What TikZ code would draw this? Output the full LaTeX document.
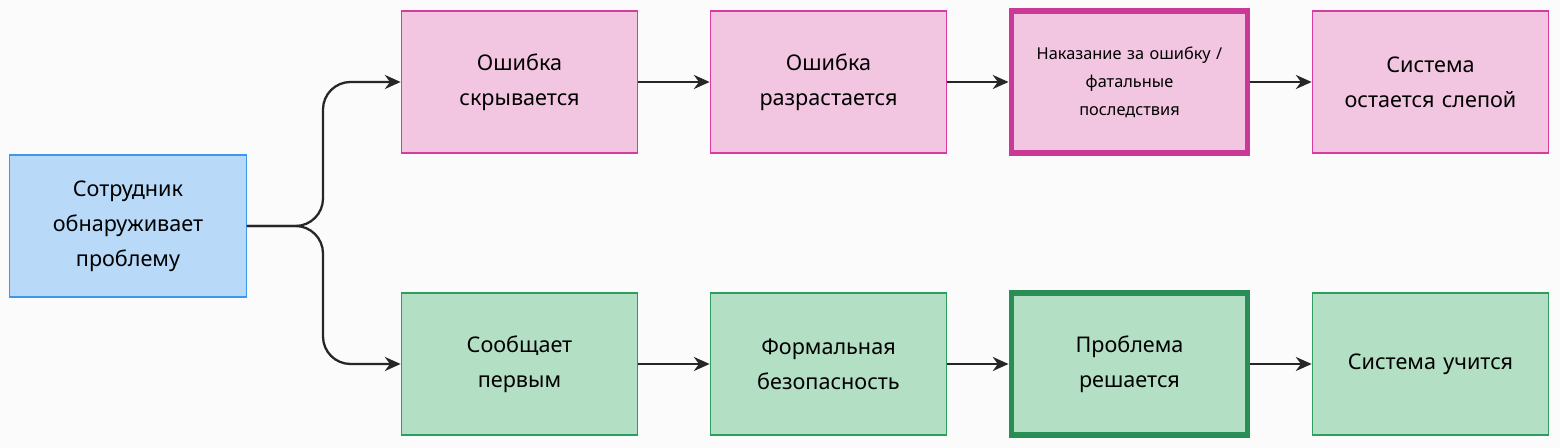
\documentclass[tikz,border=0pt]{standalone}
\usepackage{fontspec}
\setmainfont{Noto Sans}
\usetikzlibrary{positioning,arrows.meta}
\definecolor{rosefill}{HTML}{F2C6E1}
\definecolor{roseline}{HTML}{D63CA0}
\definecolor{bleufill}{HTML}{B8DAF8}
\definecolor{bleuline}{HTML}{3C97E8}
\definecolor{vertfill}{HTML}{B3DFC4}
\definecolor{vertline}{HTML}{2E9E5E}
\definecolor{fond}{HTML}{FCFBFC}
\tikzset{
  boite/.style={minimum width=4.7cm, minimum height=2.84cm, text width=4.5cm, align=center, font=\fontsize{12.3}{20}\selectfont, line width=0.6pt},
  rose/.style={boite, draw=roseline, fill=rosefill},
  vert/.style={boite, draw=vertline, fill=vertfill},
  fleche/.style={-{Stealth[length=9pt,width=8pt]}, line width=1.3pt, draw=black!85, rounded corners=0.55cm}
}
\begin{document}
\begin{tikzpicture}[x=0.02cm,y=-0.02cm]
\fill[fond] (0,0) rectangle (1560,448);
\useasboundingbox (0,0) rectangle (1560,448);
% depart
\node[boite, draw=bleuline, fill=bleufill] (employe) at (128,226) {Сотрудник обнаруживает проблему};
% ligne du haut
\node[rose] (cache) at (519.5,82) {Ошибка\\скрывается};
\node[rose] (grandit) at (828.5,82) {Ошибка\\разрастается};
\node[rose, line width=3pt, draw=roseline!95!black, font=\fontsize{9.3}{16}\selectfont] (punition) at (1129.5,82) {Наказание за ошибку /\\фатальные\\последствия};
\node[rose] (aveugle) at (1430.5,82) {Система\\остается слепой};
% ligne du bas
\node[vert] (signale) at (519.5,364) {Сообщает\\первым};
\node[vert] (formel) at (828.5,364) {Формальная\\безопасность};
\node[vert, line width=3pt, draw=vertline!90!black] (resolu) at (1129.5,364) {Проблема\\решается};
\node[vert] (apprend) at (1430.5,364) {Система учится};
% liens
\coordinate (fourche) at (323,226);
\draw[fleche] (employe.east) -- (fourche) |- (cache.west);
\draw[fleche] (employe.east) -- (fourche) |- (signale.west);
\draw[fleche] (cache) -- (grandit);
\draw[fleche] (grandit) -- (punition);
\draw[fleche] (punition) -- (aveugle);
\draw[fleche] (signale) -- (formel);
\draw[fleche] (formel) -- (resolu);
\draw[fleche] (resolu) -- (apprend);
\end{tikzpicture}
\end{document}
